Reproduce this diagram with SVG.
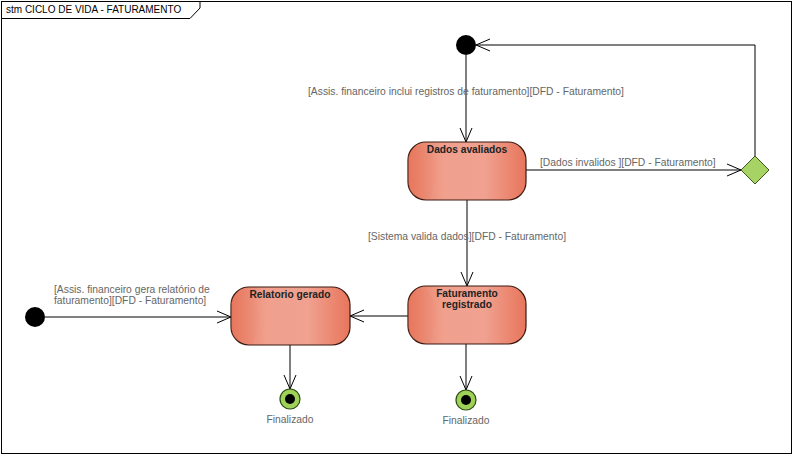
<svg xmlns="http://www.w3.org/2000/svg" width="794" height="456" viewBox="0 0 794 456">
<defs>
<style>
.frame{fill:#ffffff;stroke:#000;stroke-width:1}
.st{stroke:#3a1a10;stroke-width:1.2}
.lbl{font-family:"Liberation Sans",Arial,sans-serif;font-size:10.2px;font-weight:bold;fill:#222;text-anchor:middle}
.g{font-family:"Liberation Sans",Arial,sans-serif;font-size:10.3px;fill:#666}
.ln{fill:none;stroke:#000;stroke-width:1}
.ar{fill:none;stroke:#000;stroke-width:1}
</style>
<linearGradient id="sg" x1="0" y1="0" x2="1" y2="0">
<stop offset="0" stop-color="#e97b61"/>
<stop offset="0.3" stop-color="#f0a08d"/>
<stop offset="0.65" stop-color="#f0a190"/>
<stop offset="1" stop-color="#e8755b"/>
</linearGradient>
<linearGradient id="hl" x1="0" y1="0" x2="1" y2="0">
<stop offset="0" stop-color="#e06a50" stop-opacity="0.5"/>
<stop offset="1" stop-color="#e06a50" stop-opacity="0.1"/>
</linearGradient>
</defs>
<rect x="0" y="0" width="794" height="456" fill="#fff"/>
<rect class="frame" x="1.5" y="1.5" width="790" height="452"/>
<path class="ln" d="M1.5 18.5 H190 L200 8 V1.5"/>
<text x="6" y="13" font-family="Liberation Sans,Arial,sans-serif" font-size="10" fill="#000">stm CICLO DE VIDA - FATURAMENTO</text>

<g id="connectors">
<path class="ln" d="M466 55 V142"/>
<path class="ar" d="M460 128 L466 142 L472 128"/>
<text class="g" x="308" y="95">[Assis. financeiro inclui registros de faturamento][DFD - Faturamento]</text>

<path class="ln" d="M526 170 H741"/>
<path class="ar" d="M727 164 L741 170 L727 176"/>
<text class="g" x="540" y="166">[Dados invalidos ][DFD - Faturamento]</text>

<path class="ln" d="M755 156 V45 H476"/>
<path class="ar" d="M490 39 L476 45 L490 51"/>

<path class="ln" d="M467 200 V286"/>
<path class="ar" d="M461 272 L467 286 L473 272"/>
<text class="g" x="368" y="240">[Sistema valida dados][DFD - Faturamento]</text>

<path class="ln" d="M408 316 H350"/>
<path class="ar" d="M364 310 L350 316 L364 322"/>

<path class="ln" d="M45 317 H231"/>
<path class="ar" d="M217 311 L231 317 L217 323"/>
<text class="g" x="54" y="293">[Assis. financeiro gera relatório de</text>
<text class="g" x="54" y="304">faturamento][DFD - Faturamento]</text>

<path class="ln" d="M290 345 V389"/>
<path class="ar" d="M284 375 L290 389 L296 375"/>
<path class="ln" d="M466 344 V390"/>
<path class="ar" d="M460 376 L466 390 L472 376"/>
</g>

<g id="initial1"><circle cx="466" cy="45" r="10" fill="#000"/></g>
<g id="initial2"><circle cx="35" cy="317" r="10" fill="#000"/></g>

<g id="dados">
<rect class="st" x="408" y="142" width="118" height="58" rx="18" fill="url(#sg)"/>
<path d="M426 144 Q444 165 430 199 L426 199 Q408 198 408 180 V160 Q408 146 426 144Z" fill="url(#hl)" opacity="0.5"/>
<text class="lbl" x="467" y="153">Dados avaliados</text>
</g>

<g id="faturamento">
<rect class="st" x="408" y="286" width="118" height="58" rx="18" fill="url(#sg)"/>
<path d="M426 288 Q444 309 430 343 L426 343 Q408 342 408 324 V304 Q408 290 426 288Z" fill="url(#hl)" opacity="0.5"/>
<text class="lbl" x="467" y="297">Faturamento</text>
<text class="lbl" x="467" y="308">registrado</text>
</g>

<g id="relatorio">
<rect class="st" x="231" y="287" width="119" height="58" rx="18" fill="url(#sg)"/>
<path d="M249 289 Q267 310 253 344 L249 344 Q231 343 231 325 V305 Q231 291 249 289Z" fill="url(#hl)" opacity="0.5"/>
<text class="lbl" x="290" y="298">Relatorio gerado</text>
</g>

<g id="decision">
<path d="M755 156 L769 170 L755 184 L741 170 Z" fill="#a6d364" stroke="#3c5a1a" stroke-width="1"/>
</g>

<g id="final1">
<circle cx="290" cy="399" r="10" fill="#9fd158" stroke="#2d4a10" stroke-width="1.2"/>
<circle cx="290" cy="399" r="5" fill="#000"/>
<text class="g" x="290" y="423" text-anchor="middle">Finalizado</text>
</g>
<g id="final2">
<circle cx="466" cy="400" r="10" fill="#9fd158" stroke="#2d4a10" stroke-width="1.2"/>
<circle cx="466" cy="400" r="5" fill="#000"/>
<text class="g" x="466" y="424" text-anchor="middle">Finalizado</text>
</g>
</svg>
